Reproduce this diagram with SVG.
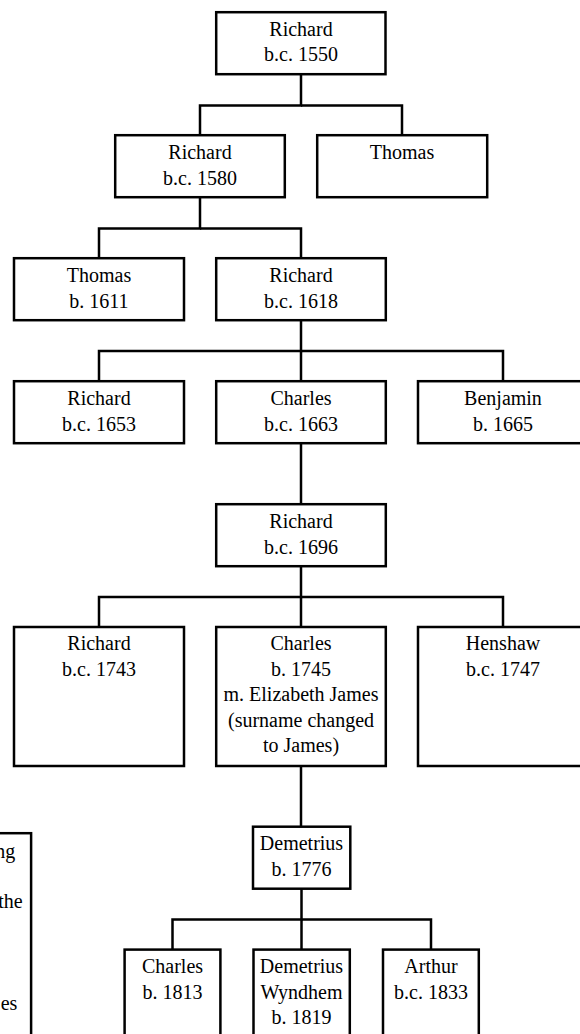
<svg xmlns="http://www.w3.org/2000/svg" width="580" height="1034" viewBox="0 0 580 1034">
<style>
.box{fill:#fff;stroke:#000;stroke-width:2.5}
text{font-family:'Liberation Serif','Times New Roman',serif;font-size:20px;fill:#000}
.t{text-anchor:middle}
.te{text-anchor:end}
.c{fill:none;stroke:#000;stroke-width:2.5}
</style>
<rect width="580" height="1034" fill="#fff"/>
<g id="connectors">
<path class="c" d="M301 75 V105.5 H200 V135"/>
<path class="c" d="M301 105.5 H402 V135"/>
<path class="c" d="M200 198 V228.5 H99 V258"/>
<path class="c" d="M200 228.5 H301 V258"/>
<path class="c" d="M301 321 V351 H99 V381"/>
<path class="c" d="M301 351 H503 V381"/>
<path class="c" d="M301 351 V381"/>
<path class="c" d="M301 444 V504"/>
<path class="c" d="M301 567 V597 H99 V627"/>
<path class="c" d="M301 597 H503 V627"/>
<path class="c" d="M301 597 V627"/>
<path class="c" d="M301 766 V826.5"/>
<path class="c" d="M301.5 889 V919.5 H172.5 V949"/>
<path class="c" d="M301.5 919.5 H431 V949"/>
<path class="c" d="M301.5 919.5 V949"/>
</g>
<g id="n-richard-1550">
<rect class="box" x="216.2" y="12.2" width="169.3" height="62"/>
<text class="t" x="301" y="36">Richard</text>
<text class="t" x="301" y="61.4">b.c. 1550</text>
</g>
<g id="n-richard-1580">
<rect class="box" x="115.2" y="135.2" width="169.6" height="62"/>
<text class="t" x="200" y="159.2">Richard</text>
<text class="t" x="200" y="184.6">b.c. 1580</text>
</g>
<g id="n-thomas">
<rect class="box" x="317.2" y="135.2" width="170" height="62"/>
<text class="t" x="402" y="159.2">Thomas</text>
</g>
<g id="n-thomas-1611">
<rect class="box" x="14" y="258.2" width="170" height="62"/>
<text class="t" x="99" y="282.2">Thomas</text>
<text class="t" x="99" y="307.6">b. 1611</text>
</g>
<g id="n-richard-1618">
<rect class="box" x="216.2" y="258.2" width="169.6" height="62"/>
<text class="t" x="301" y="282.2">Richard</text>
<text class="t" x="301" y="307.6">b.c. 1618</text>
</g>
<g id="n-richard-1653">
<rect class="box" x="14" y="381.2" width="170" height="62"/>
<text class="t" x="99" y="405.2">Richard</text>
<text class="t" x="99" y="430.6">b.c. 1653</text>
</g>
<g id="n-charles-1663">
<rect class="box" x="216.2" y="381.2" width="169.6" height="62"/>
<text class="t" x="301" y="405.2">Charles</text>
<text class="t" x="301" y="430.6">b.c. 1663</text>
</g>
<g id="n-benjamin-1665">
<rect class="box" x="418" y="381.2" width="170" height="62"/>
<text class="t" x="503" y="405.2">Benjamin</text>
<text class="t" x="503" y="430.6">b. 1665</text>
</g>
<g id="n-richard-1696">
<rect class="box" x="216.2" y="504.2" width="169.6" height="62"/>
<text class="t" x="301" y="528.2">Richard</text>
<text class="t" x="301" y="553.6">b.c. 1696</text>
</g>
<g id="n-richard-1743">
<rect class="box" x="14" y="627" width="170" height="139"/>
<text class="t" x="99" y="650.4">Richard</text>
<text class="t" x="99" y="675.8">b.c. 1743</text>
</g>
<g id="n-charles-1745">
<rect class="box" x="216.2" y="627" width="169.6" height="139"/>
<text class="t" x="301" y="650.4">Charles</text>
<text class="t" x="301" y="675.8">b. 1745</text>
<text class="t" x="301" y="701.2">m. Elizabeth James</text>
<text class="t" x="301" y="726.6">(surname changed</text>
<text class="t" x="301" y="752">to James)</text>
</g>
<g id="n-henshaw-1747">
<rect class="box" x="418" y="627" width="170" height="139"/>
<text class="t" x="503" y="650.4">Henshaw</text>
<text class="t" x="503" y="675.8">b.c. 1747</text>
</g>
<g id="n-demetrius-1776">
<rect class="box" x="253" y="826.7" width="97.3" height="62"/>
<text class="t" x="301.5" y="850.3">Demetrius</text>
<text class="t" x="301.5" y="875.7">b. 1776</text>
</g>
<g id="n-charles-1813">
<rect class="box" x="124.6" y="949.6" width="95.8" height="120"/>
<text class="t" x="172.5" y="973.2">Charles</text>
<text class="t" x="172.5" y="998.6">b. 1813</text>
</g>
<g id="n-demetrius-wyndhem-1819">
<rect class="box" x="253.5" y="949.6" width="96.3" height="120"/>
<text class="t" x="301.5" y="973.2">Demetrius</text>
<text class="t" x="301.5" y="998.6">Wyndhem</text>
<text class="t" x="301.5" y="1024">b. 1819</text>
</g>
<g id="n-arthur-1833">
<rect class="box" x="383" y="949.6" width="95.8" height="120"/>
<text class="t" x="431" y="973.2">Arthur</text>
<text class="t" x="431" y="998.6">b.c. 1833</text>
</g>
<g id="n-note">
<rect class="box" x="-200" y="833.2" width="231.1" height="240"/>
<text class="te" x="15.3" y="858.3">ng</text>
<text class="te" x="22.7" y="907.7">the</text>
<text class="te" x="17.3" y="1010">es</text>
</g>
</svg>
